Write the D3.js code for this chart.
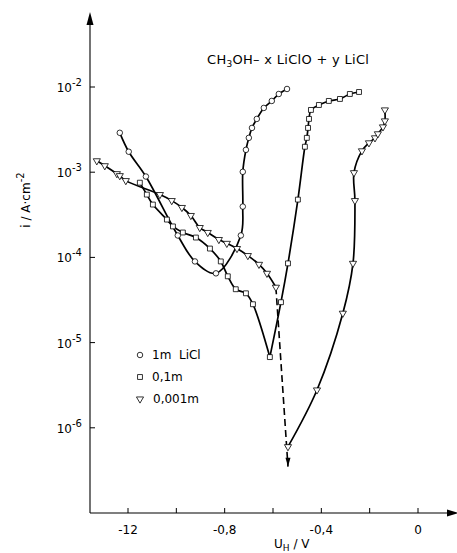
<!DOCTYPE html>
<html>
<head>
<meta charset="utf-8">
<script src="https://cdn.jsdelivr.net/npm/d3@7"></script>
<style>
  body { margin: 0; background: #fff; }
  svg { display: block; font-family: "DejaVu Sans", sans-serif; }
</style>
</head>
<body>
<div id="chart"></div>
<script>
// values: potential U_H in V, current density i in A/cm2

// 1m LiCl (circles)
const circleU = [-1.234, -1.197, -1.126, -0.994, -0.923, -0.836, -0.733, -0.725, -0.725, -0.712, -0.700, -0.687, -0.667, -0.638, -0.605, -0.576, -0.542];
const circleI = [2.90e-3, 1.74e-3, 8.9e-4, 1.81e-4, 8.97e-5, 6.5e-5, 1.81e-4, 3.95e-4, 1.01e-3, 1.83e-3, 2.53e-3, 3.31e-3, 4.22e-3, 5.68e-3, 6.86e-3, 8.28e-3, 9.48e-3];

// 0,1m (squares)
const squareU = [-1.151, -1.122, -1.097, -1.039, -1.014, -0.973, -0.919, -0.861, -0.816, -0.787, -0.754, -0.712, -0.683, -0.613, -0.567, -0.538, -0.497, -0.468, -0.460, -0.455, -0.451, -0.443, -0.410, -0.369, -0.323, -0.282, -0.244];
const squareI = [7.53e-4, 5.46e-4, 4.17e-4, 2.78e-4, 2.31e-4, 1.96e-4, 1.71e-4, 1.27e-4, 8.97e-5, 6.0e-5, 4.23e-5, 3.79e-5, 2.82e-5, 6.76e-6, 2.98e-5, 8.51e-5, 4.77e-4, 1.99e-3, 2.53e-3, 3.31e-3, 4.22e-3, 5.38e-3, 6.15e-3, 6.86e-3, 7.24e-3, 8.28e-3, 8.74e-3];

// 0,001m (triangles), cathodic branch, dashed drop, anodic branch
const triLeftU = [-1.329, -1.296, -1.246, -1.234, -1.209, -1.068, -1.019, -0.977, -0.940, -0.903, -0.870, -0.824, -0.791, -0.749, -0.704, -0.658, -0.625, -0.588];
const triLeftI = [1.36e-3, 1.19e-3, 9.6e-4, 9.1e-4, 7.96e-4, 5.46e-4, 4.64e-4, 3.85e-4, 3.10e-4, 2.24e-4, 1.96e-4, 1.62e-4, 1.46e-4, 1.27e-4, 1.05e-4, 8.28e-5, 6.5e-5, 4.46e-5];
const triDashU = [-0.588, -0.538];
const triDashI = [4.46e-5, 3.5e-7];
const triRightU = [-0.538, -0.418, -0.311, -0.269, -0.261, -0.265, -0.232, -0.203, -0.178, -0.166, -0.145, -0.137, -0.137];
const triRightI = [6.0e-7, 2.78e-6, 2.21e-5, 8.51e-5, 4.64e-4, 9.86e-4, 1.78e-3, 2.21e-3, 2.53e-3, 2.82e-3, 3.40e-3, 4.0e-3, 5.38e-3];

// axis ticks
const xTicks = [-1.2, -1.0, -0.8, -0.6, -0.4, -0.2, 0];
const xTickLabels = new Map([[-1.2, '-12'], [-0.8, '-0,8'], [-0.4, '-0,4'], [0, '0']]);
const yTicks = [1e-2, 1e-3, 1e-4, 1e-5, 1e-6];
const yTickExp = ['-2', '-3', '-4', '-5', '-6'];

// legend entries
const legendLabels = ['1m  LiCl', '0,1m', '0,001m'];

const W = 457, H = 553;
const m = { left: 90, bottom: 513, top: 12, right: 457 };

const svg = d3.select('#chart').append('svg')
    .attr('width', W)
    .attr('height', H);

const x = d3.scaleLinear().domain([-1.2, 0]).range([128, 418]);
const y = d3.scaleLog().domain([1e-7, 1e-2]).range([m.bottom, 87]);

// axes with arrow heads
svg.append('line').attr('x1', m.left).attr('x2', m.left).attr('y1', m.bottom).attr('y2', m.top + 8)
    .attr('stroke', '#000').attr('stroke-width', 1.1);
svg.append('path').attr('d', `M${m.left},${m.top} L${m.left - 3.5},${m.top + 13} L${m.left + 3.5},${m.top + 13} Z`).attr('fill', '#000');
svg.append('line').attr('x1', m.left).attr('x2', m.right - 6).attr('y1', m.bottom).attr('y2', m.bottom)
    .attr('stroke', '#000').attr('stroke-width', 1.1);
svg.append('path').attr('d', `M${m.right + 2},${m.bottom} L${m.right - 10},${m.bottom - 3.5} L${m.right - 10},${m.bottom + 3.5} Z`).attr('fill', '#000');

// x ticks point up into the plot
svg.selectAll('.xt').data(xTicks).enter().append('line')
    .attr('x1', d => x(d)).attr('x2', d => x(d))
    .attr('y1', m.bottom).attr('y2', m.bottom - 5)
    .attr('stroke', '#000').attr('stroke-width', 1);
svg.selectAll('.xl').data(xTicks.filter(d => xTickLabels.has(d))).enter().append('text')
    .attr('x', d => x(d)).attr('y', m.bottom + 21)
    .attr('text-anchor', 'middle')
    .attr('font-size', 12)
    .text(d => xTickLabels.get(d));

// y ticks point right
svg.selectAll('.yt').data(yTicks).enter().append('line')
    .attr('x1', m.left).attr('x2', m.left + 5)
    .attr('y1', d => y(d)).attr('y2', d => y(d))
    .attr('stroke', '#000').attr('stroke-width', 1);
const yl = svg.selectAll('.yl').data(yTicks).enter().append('text')
    .attr('x', m.left - 8).attr('y', d => y(d) + 5)
    .attr('text-anchor', 'end')
    .attr('font-size', 12);
yl.append('tspan').text('10');
yl.append('tspan').attr('dy', -6).attr('font-size', 10).text((d, i) => yTickExp[i]);

// axis titles
const xt = svg.append('text').attr('x', 274).attr('y', 548).attr('font-size', 12);
xt.append('tspan').text('U');
xt.append('tspan').attr('dy', 3).attr('font-size', 9).text('H');
xt.append('tspan').attr('dy', -3).text(' / V');

const ytl = svg.append('text')
    .attr('transform', 'translate(30,200) rotate(-90)')
    .attr('text-anchor', 'middle')
    .attr('font-size', 12);
ytl.append('tspan').text('i / A\u00b7cm');
ytl.append('tspan').attr('dy', -6).attr('font-size', 10).text('-2');

// title
const tt = svg.append('text').attr('x', 207).attr('y', 64)
    .attr('font-size', 13)
    .attr('letter-spacing', 0.3);
tt.append('tspan').text('CH');
tt.append('tspan').attr('dy', 3).attr('font-size', 9).text('3');
tt.append('tspan').attr('dy', -3).text('OH\u2013 x LiClO + y LiCl');

// curves
const line = d3.line()
    .x(d => x(d[0]))
    .y(d => y(d[1]))
    .curve(d3.curveCatmullRom.alpha(0.5));
const zip = (u, i) => u.map((v, k) => [v, i[k]]);

const circles = zip(circleU, circleI);
const squares = zip(squareU, squareI);
const triLeft = zip(triLeftU, triLeftI);
const triRight = zip(triRightU, triRightI);

// squares bend sharply at the minimum, draw the two branches separately
const sqMin = d3.minIndex(squareI);
const lineData = [circles, squares.slice(0, sqMin + 1), squares.slice(sqMin), triLeft, triRight];

svg.selectAll('.curve').data(lineData).enter().append('path')
    .attr('d', line)
    .attr('fill', 'none')
    .attr('stroke', '#000')
    .attr('stroke-width', 1.7);

// dashed drop with arrow
const dash = zip(triDashU, triDashI);
svg.append('path')
    .attr('d', d3.line().x(d => x(d[0])).y(d => y(d[1]))(dash))
    .attr('fill', 'none')
    .attr('stroke', '#000')
    .attr('stroke-width', 1.6)
    .attr('stroke-dasharray', '7,4');
const tip = dash[dash.length - 1];
svg.append('path')
    .attr('d', `M${x(tip[0])},${y(tip[1])} l-2.5,-9 l5,0 Z`)
    .attr('fill', '#000');

// markers
const sym = {
    circle: d3.symbol().type(d3.symbolCircle).size(24),
    square: d3.symbol().type(d3.symbolSquare).size(24),
    triangle: d3.symbol().type(d3.symbolTriangle).size(22)
};
function markers(data, shape) {
    svg.append('g').selectAll('path').data(data).enter().append('path')
        .attr('transform', d => `translate(${x(d[0])},${y(d[1])})` + (shape === 'triangle' ? ' rotate(180)' : ''))
        .attr('d', sym[shape])
        .attr('fill', '#fff')
        .attr('stroke', '#000')
        .attr('stroke-width', 0.8);
}
markers(triLeft, 'triangle');
markers(triRight, 'triangle');
markers(squares, 'square');
markers(circles, 'circle');

// legend
const shapes = ['circle', 'square', 'triangle'];
const lg = svg.append('g');
lg.selectAll('path').data(shapes).enter().append('path')
    .attr('transform', (d, i) => `translate(140,${355 + i * 22})` + (d === 'triangle' ? ' rotate(180)' : ''))
    .attr('d', d => sym[d]())
    .attr('fill', '#fff')
    .attr('stroke', '#000')
    .attr('stroke-width', 0.8);
lg.selectAll('text').data(legendLabels).enter().append('text')
    .attr('x', (d, i) => i === 2 ? 153 : 152)
    .attr('y', (d, i) => 359 + i * 22)
    .attr('font-size', 12)
    .style('white-space', 'pre')
    .text(d => d);
</script>
</body>
</html>
